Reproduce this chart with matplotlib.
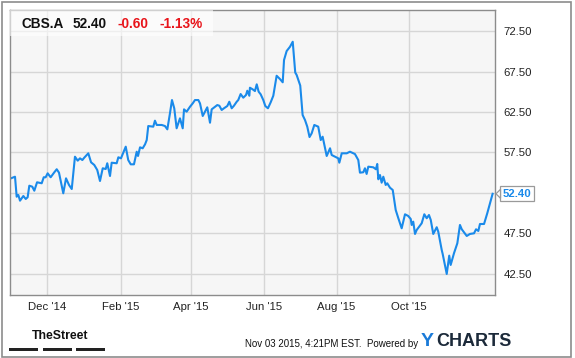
import numpy as np
import pandas as pd
import matplotlib
matplotlib.use("Agg")
import matplotlib.pyplot as plt
import matplotlib.dates as mdates
from matplotlib.patches import Rectangle, Polygon
import matplotlib.transforms as mtransforms

plt.rcParams['font.family'] = ['Liberation Sans', 'DejaVu Sans']

# ---- data ----
start_date = "2014-10-31"
day_offsets = [0.8, 4.2, 5.6, 7.0, 8.4, 11.2, 13.2, 14.8, 16.2, 18.7, 20.4, 22.7, 26.6, 28.3, 29.9,
               31.6, 34.1, 37.2, 39.2, 41.1, 44.7, 47.0, 49.5, 51.8, 54.5, 56.8, 58.7, 60.7, 62.3,
               65.7, 68.0, 70.7, 73.2, 75.5, 77.8, 80.3, 81.6, 83.9, 85.3, 89.5, 90.9, 93.1, 97.1,
               99.2, 101.3, 104.0, 106.3, 107.4, 109.1, 111.3, 113.3, 114.7, 116.0, 120.2, 121.6,
               123.1, 127.3, 130.0, 132.0, 134.2, 135.9, 137.8, 139.8, 142.6, 144.9, 146.0, 148.2,
               151.0, 153.3, 155.2, 158.0, 159.4, 161.7, 163.6, 165.5, 167.8, 169.2, 172.0, 173.9,
               175.6, 177.6, 179.5, 182.3, 184.0, 186.0, 187.9, 190.2, 191.5, 193.5, 195.7, 198.0,
               199.1, 200.8, 201.3, 203.6, 205.5, 207.0, 208.6, 210.3, 212.5, 214.2, 216.4, 218.7,
               220.9, 223.7, 226.5, 228.8, 229.9, 232.1, 234.9, 237.2, 239.3, 240.5, 243.5, 245.5,
               247.5, 249.4, 251.3, 253.1, 255.3, 258.6, 260.7, 262.3, 265.7, 268.5, 269.9, 275.4,
               276.3, 278.3, 282.5, 285.2, 289.4, 292.2, 293.6, 296.4, 297.8, 299.2, 300.6, 304.8,
               307.0, 308.1, 309.0, 310.4, 311.8, 313.2, 315.2, 316.5, 318.8, 321.1, 323.6, 325.8,
               328.6, 331.4, 334.1, 336.2, 337.0, 338.3, 339.8, 341.2, 345.4, 347.6, 349.6, 351.5,
               353.0, 355.1, 358.0, 359.3, 362.2, 363.0, 366.4, 368.5, 369.7, 372.5, 375.3, 377.5,
               379.0, 383.2, 385.9, 389.3, 391.0, 392.9, 394.3, 397.7, 400.4, 404.9]
prices = [54.31, 54.51, 52.04, 52.25, 51.55, 52.13, 51.76, 51.97, 53.40, 53.28, 52.78, 53.82, 53.70,
          54.44, 54.44, 54.93, 54.44, 55.06, 55.43, 55.01, 52.46, 54.31, 53.49, 52.99, 56.98, 56.49,
          56.78, 56.57, 56.86, 57.40, 56.29, 55.96, 55.34, 53.98, 55.55, 55.46, 56.17, 54.60, 56.24,
          56.17, 56.91, 56.78, 58.22, 56.57, 56.04, 56.04, 57.60, 57.07, 58.14, 58.02, 58.51, 59.04,
          60.77, 60.69, 61.43, 60.90, 60.90, 60.77, 60.36, 62.34, 63.98, 62.96, 60.49, 61.72, 60.49,
          62.83, 62.54, 63.15, 63.57, 63.98, 63.98, 63.57, 62.01, 62.54, 63.08, 61.18, 62.83, 63.15,
          63.36, 63.28, 62.75, 62.96, 63.24, 63.77, 62.96, 63.28, 63.77, 63.98, 64.72, 64.27, 64.60,
          65.13, 64.51, 65.50, 65.30, 65.09, 65.92, 65.01, 64.69, 63.98, 63.24, 62.96, 63.70, 64.51,
          66.98, 66.57, 66.17, 68.92, 70.03, 70.56, 71.18, 67.38, 67.07, 65.77, 62.13, 61.51, 60.69,
          59.41, 59.87, 60.90, 60.69, 59.04, 59.45, 57.07, 58.02, 57.19, 56.78, 56.24, 57.40, 57.40,
          57.60, 57.31, 56.57, 55.01, 55.06, 55.55, 54.85, 55.75, 55.67, 55.43, 56.08, 54.19, 54.72,
          53.77, 54.51, 53.49, 53.70, 53.15, 52.87, 50.40, 49.38, 48.14, 49.87, 49.66, 49.29, 48.55,
          48.96, 47.44, 47.93, 48.76, 49.87, 49.38, 49.78, 49.17, 47.44, 48.27, 47.72, 45.46, 44.97,
          42.50, 44.76, 43.61, 45.06, 46.29, 48.55, 48.02, 47.19, 47.44, 47.52, 48.02, 47.81, 48.67,
          48.67, 49.99, 52.40]
y_ticks = [42.5, 47.5, 52.5, 57.5, 62.5, 67.5, 72.5]
x_tick_dates = ["2014-12-01", "2015-02-01", "2015-04-01", "2015-06-01", "2015-08-01", "2015-10-01"]
x_tick_labels = ["Dec '14", "Feb '15", "Apr '15", "Jun '15", "Aug '15", "Oct '15"]
ticker = "CBS.A"
last_price = "52.40"
change = "-0.60"
change_pct = "-1.13%"
footer_text = "Nov 03 2015, 4:21PM EST.  Powered by"

dates = pd.Timestamp(start_date) + pd.to_timedelta(day_offsets, unit="D")

W, H = 575, 358
fig = plt.figure(figsize=(W / 100, H / 100), dpi=100)
fig.patch.set_facecolor("white")

# outer frame
fig.patches.append(Rectangle((1.5 / W, 1.5 / H), 569.5 / W, 355 / H, transform=fig.transFigure,
                             fill=False, edgecolor="#8c8c8c", linewidth=1.2))

ax = fig.add_axes([10 / W, (H - 295) / H, 485 / W, 285 / H])
ax.set_facecolor("#f6f6f6")
line_color = "#1a8aea"
ax.plot(dates, prices, color=line_color, linewidth=1.5, solid_joinstyle="round")

ax.set_xlim(pd.Timestamp(start_date), pd.Timestamp(start_date) + pd.Timedelta(days=406.9))
ax.set_ylim(39.9, 75.1)
ax.set_yticks(y_ticks)
ax.set_yticklabels([f"{v:.2f}" for v in y_ticks])
ax.yaxis.tick_right()
ax.set_xticks(pd.to_datetime(x_tick_dates))
ax.set_xticklabels(x_tick_labels)
ax.tick_params(axis="both", length=0, labelsize=8.2, labelcolor="#222222")
ax.tick_params(axis="y", pad=6)
ax.tick_params(axis="x", pad=5)
ax.grid(True, color="#d6d6d6", linewidth=1.0)
ax.set_axisbelow(True)
for s in ax.spines.values():
    s.set_color("#8c8c8c")
    s.set_linewidth(1.0)

# header box
ax.add_patch(Rectangle((0, 1 - 26 / 285), 203 / 485, 26 / 285, transform=ax.transAxes,
                       facecolor="white", alpha=0.6, edgecolor="none", zorder=3))
hy = 1 - 13.5 / 285
hfs = 9.8
ax.text(11.5 / 485, hy, ticker, transform=ax.transAxes, fontsize=hfs, fontweight="bold",
        color="#111111", va="center", ha="left", zorder=4)
ax.text(63 / 485, hy, last_price, transform=ax.transAxes, fontsize=hfs, fontweight="bold",
        color="#111111", va="center", ha="left", zorder=4)
ax.text(108 / 485, hy, change, transform=ax.transAxes, fontsize=hfs, fontweight="bold",
        color="#e8141a", va="center", ha="left", zorder=4)
ax.text(150 / 485, hy, change_pct, transform=ax.transAxes, fontsize=hfs, fontweight="bold",
        color="#e8141a", va="center", ha="left", zorder=4)

# last price tag
trans = mtransforms.blended_transform_factory(ax.transAxes, ax.transData)
ax.annotate(last_price, xy=(1.0, prices[-1]), xycoords=trans,
            xytext=(5.5, 0), textcoords="offset points", fontsize=8.2, fontweight="bold",
            color=line_color, va="center", ha="left", annotation_clip=False, zorder=6,
            bbox=dict(boxstyle="square,pad=0.22", facecolor="white", edgecolor="#9a9a9a", linewidth=0.9))
# small pointer of the tag
ytag = ax.transData.transform((0, prices[-1]))[1]
xr = ax.transAxes.transform((1, 0))[0]
ptr = Polygon([(xr + 1, ytag), (xr + 5.5, ytag + 4.5), (xr + 5.5, ytag - 4.5)], closed=True,
              transform=None, facecolor="white", edgecolor="#9a9a9a", linewidth=0.9, zorder=7,
              clip_on=False)
fig.patches.append(ptr)

# footer
fig.text(32 / W, 1 - 336 / H, "TheStreet", fontsize=8.8, fontweight="bold", color="#111111",
         va="center", ha="left")
for x0, x1 in [(9, 38), (43, 72), (76, 105)]:
    fig.patches.append(Rectangle((x0 / W, 1 - 350.5 / H), (x1 - x0) / W, 3 / H,
                                 transform=fig.transFigure, facecolor="#222222", edgecolor="none"))
fig.text(245 / W, 1 - 344 / H, footer_text, fontsize=7.0, color="#111111", va="center", ha="left")
fig.text(421 / W, 1 - 342 / H, "Y", fontsize=14, fontweight="bold", color="#1a7ad8",
         va="center", ha="left")
fig.text(436.5 / W, 1 - 342 / H, "CHARTS", fontsize=13, fontweight="bold", color="#1c2a3a",
         va="center", ha="left")

fig.savefig("out.png", dpi=100)
